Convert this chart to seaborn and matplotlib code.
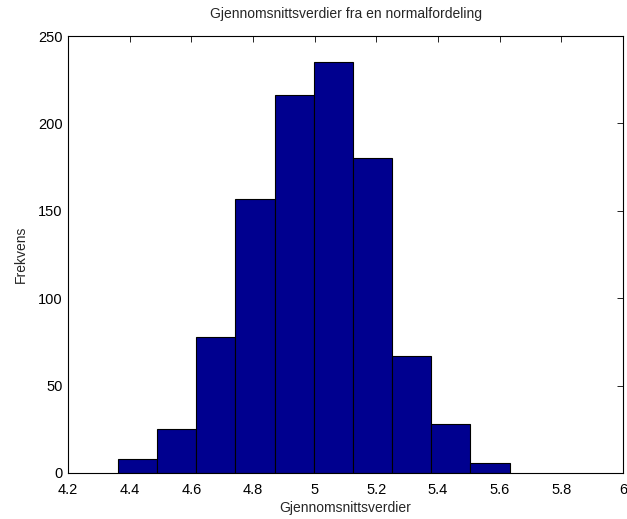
import numpy as np
import matplotlib
matplotlib.use("Agg")
import matplotlib.pyplot as plt
import seaborn as sns

# histogram (1000 sample means, 10 bins)
bin_edges = [4.362, 4.489, 4.616, 4.743, 4.870, 4.997, 5.124, 5.251, 5.378, 5.505, 5.632]
counts = [8, 25, 78, 157, 216, 235, 180, 67, 28, 6]
x_ticks = [4.2, 4.4, 4.6, 4.8, 5, 5.2, 5.4, 5.6, 5.8, 6]
x_tick_labels = ["4.2", "4.4", "4.6", "4.8", "5", "5.2", "5.4", "5.6", "5.8", "6"]
y_ticks = [0, 50, 100, 150, 200, 250]

sns.set_style("white")
plt.rcParams['font.family'] = ['Liberation Sans', 'DejaVu Sans']

centers = [(a + b) / 2 for a, b in zip(bin_edges[:-1], bin_edges[1:])]

fig = plt.figure(figsize=(6.27, 5.19), dpi=100)
ax = fig.add_axes([68 / 627, 46 / 519, 555 / 627, 437 / 519])

sns.histplot(x=centers, weights=counts, bins=bin_edges, ax=ax,
             color="#00008F", alpha=1, edgecolor="black", linewidth=0.8)

ax.set_xlim(4.2, 6)
ax.set_ylim(0, 250)
ax.set_xticks(x_ticks)
ax.set_xticklabels(x_tick_labels)
ax.set_yticks(y_ticks)
ax.tick_params(direction="in", length=4, width=0.6, top=True, right=True,
               labelsize=10.5, colors="black")
ax.tick_params(axis="x", pad=7)
ax.tick_params(axis="y", pad=4)
for s in ax.spines.values():
    s.set_linewidth(0.8)
    s.set_color("black")

ax.set_title("Gjennomsnittsverdier fra en normalfordeling", fontsize=10, pad=13)
ax.set_xlabel("Gjennomsnittsverdier", fontsize=10, labelpad=3)
ax.set_ylabel("Frekvens", fontsize=10, labelpad=7)

fig.savefig("out.png", dpi=100)
